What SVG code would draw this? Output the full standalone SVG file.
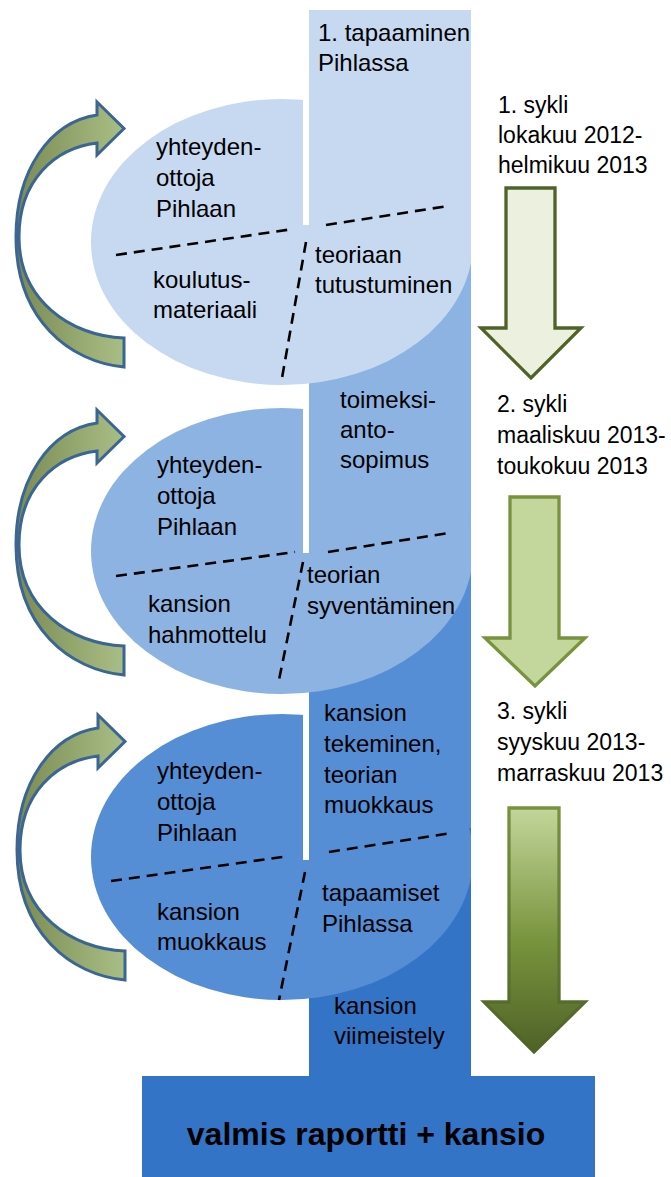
<svg xmlns="http://www.w3.org/2000/svg" width="671" height="1177" viewBox="0 0 671 1177">
<style>
text { font-family: "Liberation Sans", Arial, sans-serif; font-size: 24px; fill: #000; }
.label { font-size: 23px; }
.dash { stroke: #000; stroke-width: 2.6; stroke-dasharray: 11 7; fill: none; }
.gap { fill: #fff; }
.curl { stroke: #3b6593; stroke-width: 3; fill: url(#curlGrad); stroke-linejoin: miter; }
.title { font-weight: bold; font-size: 32px; }
</style>
<defs>
<linearGradient id="curlGrad" x1="0" y1="0" x2="1" y2="0">
<stop offset="0" stop-color="#7a8b52"/>
<stop offset="1" stop-color="#a9be86"/>
</linearGradient>
<linearGradient id="down3Fill" x1="0" y1="0" x2="0" y2="1">
<stop offset="0" stop-color="#c3d69b"/>
<stop offset="0.55" stop-color="#77933c"/>
<stop offset="1" stop-color="#4f6228"/>
</linearGradient>
<linearGradient id="down3Stroke" x1="0" y1="0" x2="0" y2="1">
<stop offset="0" stop-color="#77933c"/>
<stop offset="1" stop-color="#4f6228"/>
</linearGradient>
<clipPath id="colClip"><rect x="0" y="0" width="471" height="1177"/></clipPath>
<path id="curl" d="M124,367 C70,362 16,320 16,237 C16,170 50,122 97,115 L97,102 L124,128.5 L97,155 L97,143 C55,148 19,180 19,237 C19,300 70,336 124,338 Z"/>
</defs>

<g id="column">
<rect x="309" y="10" width="162" height="240" fill="#c6d9f1"/>
<rect x="309" y="250" width="162" height="310" fill="#8db3e2"/>
<rect x="309" y="560" width="162" height="268" fill="#558ed5"/>
<rect x="309" y="828" width="162" height="252" fill="#3474c6"/>
</g>

<g id="result-box">
<rect x="142" y="1076" width="453" height="101" fill="#3474c6"/>
<text class="title" x="366" y="1145" text-anchor="middle">valmis raportti + kansio</text>
</g>

<g id="cycle1" clip-path="url(#colClip)">
<ellipse cx="282" cy="242" rx="191" ry="143" fill="#c6d9f1"/>
<rect class="gap" x="303" y="95" width="6" height="130"/>
</g>
<g id="cycle2" clip-path="url(#colClip)">
<ellipse cx="282" cy="551" rx="191" ry="143" fill="#8db3e2"/>
<rect class="gap" x="303" y="403" width="6" height="150"/>
</g>
<g id="cycle3" clip-path="url(#colClip)">
<ellipse cx="282" cy="857" rx="191" ry="143" fill="#558ed5"/>
<rect class="gap" x="303" y="709" width="6" height="151"/>
</g>

<g id="dividers">
<line class="dash" x1="116" y1="255" x2="293" y2="229"/>
<line class="dash" x1="326" y1="225" x2="448" y2="206"/>
<line class="dash" x1="306" y1="242" x2="282" y2="378"/>
<line class="dash" x1="116" y1="576" x2="295" y2="552"/>
<line class="dash" x1="328" y1="552" x2="449" y2="533"/>
<line class="dash" x1="303" y1="562" x2="279" y2="680"/>
<line class="dash" x1="111" y1="881" x2="289" y2="856"/>
<line class="dash" x1="329" y1="852" x2="452" y2="833"/>
<line class="dash" x1="305" y1="872" x2="279" y2="1000"/>
</g>

<g id="column-texts">
<text x="318" y="41"><tspan x="318">1. tapaaminen</tspan><tspan x="318" y="71">Pihlassa</tspan></text>
<text x="340" y="408"><tspan x="340">toimeksi-</tspan><tspan x="340" y="438">anto-</tspan><tspan x="340" y="468">sopimus</tspan></text>
<text x="324" y="721"><tspan x="324">kansion</tspan><tspan x="324" y="752">tekeminen,</tspan><tspan x="324" y="783">teorian</tspan><tspan x="324" y="813">muokkaus</tspan></text>
<text x="334" y="1014"><tspan x="334">kansion</tspan><tspan x="334" y="1044">viimeistely</tspan></text>
</g>

<g id="cycle1-texts">
<text x="156" y="155"><tspan x="156">yhteyden-</tspan><tspan x="156" y="186">ottoja</tspan><tspan x="156" y="217">Pihlaan</tspan></text>
<text x="315" y="263"><tspan x="315">teoriaan</tspan><tspan x="315" y="293">tutustuminen</tspan></text>
<text x="153" y="288"><tspan x="153">koulutus-</tspan><tspan x="153" y="318">materiaali</tspan></text>
</g>
<g id="cycle2-texts">
<text x="157" y="473"><tspan x="157">yhteyden-</tspan><tspan x="157" y="504">ottoja</tspan><tspan x="157" y="535">Pihlaan</tspan></text>
<text x="307" y="583"><tspan x="307">teorian</tspan><tspan x="307" y="614">syventäminen</tspan></text>
<text x="148" y="612"><tspan x="148">kansion</tspan><tspan x="148" y="643">hahmottelu</tspan></text>
</g>
<g id="cycle3-texts">
<text x="157" y="779"><tspan x="157">yhteyden-</tspan><tspan x="157" y="810">ottoja</tspan><tspan x="157" y="841">Pihlaan</tspan></text>
<text x="322" y="901"><tspan x="322">tapaamiset</tspan><tspan x="322" y="932">Pihlassa</tspan></text>
<text x="157" y="920"><tspan x="157">kansion</tspan><tspan x="157" y="950">muokkaus</tspan></text>
</g>

<g id="cycle-labels">
<text class="label" x="498" y="113"><tspan x="498">1. sykli</tspan><tspan x="498" y="143">lokakuu 2012-</tspan><tspan x="498" y="173">helmikuu 2013</tspan></text>
<text class="label" x="497" y="412"><tspan x="497">2. sykli</tspan><tspan x="497" y="443">maaliskuu 2013-</tspan><tspan x="497" y="474">toukokuu 2013</tspan></text>
<text class="label" x="497" y="719"><tspan x="497">3. sykli</tspan><tspan x="497" y="750">syyskuu 2013-</tspan><tspan x="497" y="781">marraskuu 2013</tspan></text>
</g>

<g id="connectors">
<use href="#curl" class="curl"/>
<use href="#curl" class="curl" transform="translate(0,308)"/>
<use href="#curl" class="curl" transform="translate(1,613)"/>
<path d="M506,188 L555,188 L555,328 L581,328 L531,378 L481,328 L506,328 Z" fill="#ebf1de" stroke="#4f6228" stroke-width="3.3"/>
<path d="M510,497 L559,497 L559,638 L585,638 L535,686 L485,638 L510,638 Z" fill="#c3d69b" stroke="#77933c" stroke-width="3.3"/>
<path d="M509,808 L559,808 L559,1002 L585,1002 L534,1052 L484,1002 L509,1002 Z" fill="url(#down3Fill)" stroke="url(#down3Stroke)" stroke-width="3.3"/>
</g>
</svg>
